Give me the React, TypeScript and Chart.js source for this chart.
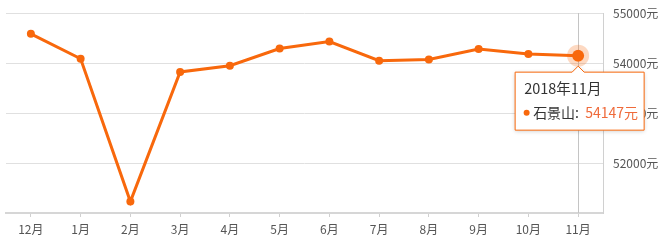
import React, { useEffect, useRef } from "react";
import { Chart, registerables } from "chart.js";

Chart.register(...registerables);

const months = ["12月", "1月", "2月", "3月", "4月", "5月", "6月", "7月", "8月", "9月", "10月", "11月"];
const prices = [54583, 54085, 51229, 53821, 53946, 54290, 54430, 54046, 54072, 54278, 54179, 54147];
const seriesName = "石景山";
const tooltipTitle = "2018年11月";
const activeIndex = 11;
const yMin = 51000;
const yMax = 55000;
const yStep = 1000;

const ORANGE = "#f8680c";
const FONT = "'Noto Sans CJK SC', 'Noto Sans', sans-serif";

const overlayPlugin = {
  id: "overlay",
  beforeDatasetsDraw(chart: any) {
    const meta = chart.getDatasetMeta(0);
    const pt = meta.data[activeIndex];
    if (!pt) return;
    const { ctx, chartArea } = chart;
    ctx.save();
    ctx.strokeStyle = "#c4c4c4";
    ctx.lineWidth = 1;
    ctx.beginPath();
    const x = Math.round(pt.x) + 0.5;
    ctx.moveTo(x, chartArea.top);
    ctx.lineTo(x, chartArea.bottom);
    ctx.stroke();
    ctx.restore();
  },
  afterDatasetsDraw(chart: any) {
    const meta = chart.getDatasetMeta(0);
    const pt = meta.data[activeIndex];
    if (!pt) return;
    const { ctx } = chart;
    ctx.save();
    ctx.strokeStyle = "rgba(248,104,12,0.25)";
    ctx.lineWidth = 5;
    ctx.beginPath();
    ctx.arc(pt.x, pt.y, 8.5, 0, Math.PI * 2);
    ctx.stroke();
    ctx.restore();
  },
  afterDraw(chart: any) {
    const meta = chart.getDatasetMeta(0);
    const pt = meta.data[activeIndex];
    if (!pt) return;
    const { ctx } = chart;
    const left = pt.x - 63;
    const right = pt.x + 66;
    const top = pt.y + 16.5;
    const bottom = top + 58;
    ctx.save();
    ctx.beginPath();
    ctx.moveTo(left, top);
    ctx.lineTo(pt.x - 6, top);
    ctx.lineTo(pt.x, top - 6);
    ctx.lineTo(pt.x + 6, top);
    ctx.lineTo(right, top);
    ctx.lineTo(right, bottom);
    ctx.lineTo(left, bottom);
    ctx.closePath();
    ctx.shadowColor = "rgba(0,0,0,0.2)";
    ctx.shadowBlur = 4;
    ctx.shadowOffsetY = 1;
    ctx.fillStyle = "#ffffff";
    ctx.fill();
    ctx.shadowColor = "transparent";
    ctx.strokeStyle = ORANGE;
    ctx.lineWidth = 1;
    ctx.stroke();
    ctx.textBaseline = "middle";
    ctx.textAlign = "left";
    ctx.fillStyle = "#333333";
    ctx.font = `14.5px ${FONT}`;
    ctx.fillText(tooltipTitle, left + 9, top + 16.5);
    const by = top + 40.5;
    ctx.fillStyle = ORANGE;
    ctx.beginPath();
    ctx.arc(left + 11.5, by, 3, 0, Math.PI * 2);
    ctx.fill();
    ctx.fillStyle = "#333333";
    ctx.font = `14px ${FONT}`;
    ctx.fillText(seriesName + ":", left + 18, by);
    ctx.fillStyle = "#ef6a3a";
    ctx.fillText(prices[activeIndex] + "元", left + 70, by);
    ctx.restore();
  },
};

export default function App() {
  const ref = useRef<HTMLCanvasElement>(null);
  useEffect(() => {
    if (!ref.current) return;
    const chart = new Chart(ref.current, {
      type: "line",
      data: {
        labels: months,
        datasets: [
          {
            label: seriesName,
            data: prices,
            borderColor: ORANGE,
            backgroundColor: ORANGE,
            borderWidth: 3,
            pointRadius: prices.map((_, i) => (i === activeIndex ? 6 : 4)),
            pointBackgroundColor: ORANGE,
            pointBorderWidth: 0,
            tension: 0,
          },
        ],
      },
      options: {
        animation: false,
        responsive: true,
        maintainAspectRatio: false,
        layout: { padding: { left: 5, top: 13, right: 0, bottom: 0 } },
        plugins: { legend: { display: false }, tooltip: { enabled: false } },
        events: [],
        scales: {
          x: {
            offset: true,
            grid: {
              display: true,
              drawOnChartArea: false,
              drawTicks: true,
              tickLength: 4,
              offset: false,
              color: "#d0d0d0",
            },
            border: { display: true, color: "#d6d6d6", width: 2 },
            ticks: {
              color: "#555555",
              font: { size: 12, family: FONT },
              padding: 5,
              maxRotation: 0,
              autoSkip: false,
            },
            afterFit(scale: any) {
              scale.height = 29;
              scale.paddingLeft = 0;
              scale.paddingRight = 0;
            },
          },
          y: {
            position: "right",
            min: yMin,
            max: yMax,
            grid: { color: "#e0e0e0", drawTicks: false },
            border: { display: true, color: "#d0d0d0" },
            ticks: {
              stepSize: yStep,
              color: "#555555",
              font: { size: 12, family: FONT },
              padding: 10,
              callback: (v: any) => (v === yMin ? "" : v + "元"),
            },
            afterFit(scale: any) {
              scale.width = 64;
              scale.paddingTop = 0;
              scale.paddingBottom = 0;
            },
          },
        },
      },
      plugins: [overlayPlugin],
    });
    return () => chart.destroy();
  }, []);
  return (
    <div style={{ position: "fixed", left: 0, top: 0, width: 667, height: 242 }}>
      <canvas ref={ref} />
    </div>
  );
}
